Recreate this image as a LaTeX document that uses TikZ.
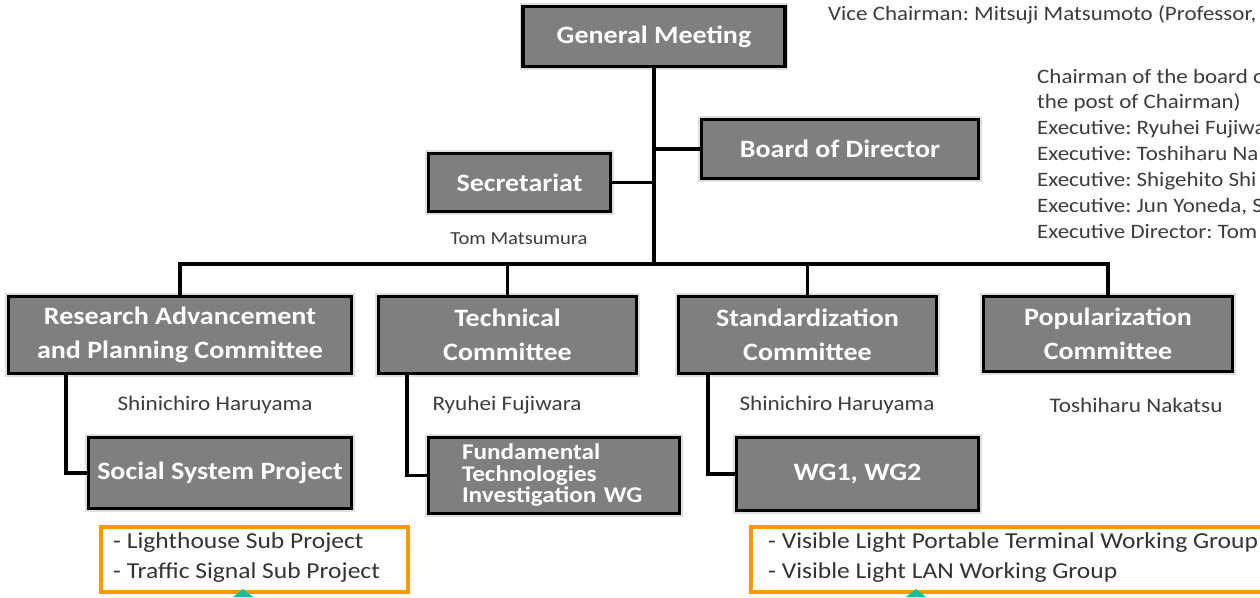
\documentclass[tikz,border=0pt]{standalone}
\usepackage{fontspec}
\setmainfont{Carlito}[FakeStretch=1.12]
\definecolor{boxgray}{RGB}{127,127,127}
\definecolor{lblgray}{RGB}{60,60,60}
\definecolor{orangeline}{RGB}{255,153,0}
\definecolor{tealtri}{RGB}{26,188,156}
\frenchspacing
\begin{document}
\begin{tikzpicture}[x=1pt,y=-1pt,
  box/.style={draw=black, line width=3.5pt, fill=boxgray, text=white,
    font=\bfseries\fontsize{25}{34}\selectfont, align=center, inner sep=0pt,
    preaction={draw=gray!25, line width=6.5pt}},
  smallbox/.style={box, font=\bfseries\fontsize{22.5}{21.5}\selectfont, align=left},
  conn/.style={line width=3.5pt, draw=black},
  lbl/.style={text=lblgray, font=\fontsize{20.7}{22}\selectfont, inner sep=0pt},
  note/.style={text=lblgray, font=\fontsize{20.5}{22}\selectfont, inner sep=0pt, anchor=base west},
  listtxt/.style={text=black!80, font=\fontsize{22.8}{24}\selectfont, inner sep=0pt, anchor=base west},
  obox/.style={draw=orangeline, line width=4pt},
  tri/.style={fill=tealtri, draw=none}
]
\useasboundingbox (0,0) rectangle (1260,597);
\clip (0,0) rectangle (1260,597);
\fill[white] (0,0) rectangle (1260,597);

% top level
\node[box, minimum width=262pt, minimum height=60pt] (gm) at (654,36.5) {General Meeting};
\node[box, minimum width=277pt, minimum height=59pt] (bod) at (840,149) {Board of Director};
\node[box, minimum width=182pt, minimum height=58pt] (sec) at (519.5,182.5) {Secretariat};
\node[lbl, font=\fontsize{18.4}{20}\selectfont] (tm) at (519,239) {Tom Matsumura};

% committees
\node[box, minimum width=343pt, minimum height=77pt] (rapc) at (180,335) {Research Advancement\\and Planning Committee};
\node[box, minimum width=258pt, minimum height=77pt] (tech) at (507.5,335) {Technical\\Committee};
\node[box, minimum width=258pt, minimum height=77pt] (std) at (807.5,335) {Standardization\\Committee};
\node[box, minimum width=249pt, minimum height=75pt] (pop) at (1108,334) {Popularization\\Committee};

\node[lbl] (n1) at (215,405) {Shinichiro Haruyama};
\node[lbl] (n2) at (507,405) {Ryuhei Fujiwara};
\node[lbl] (n3) at (837,405) {Shinichiro Haruyama};
\node[lbl] (n4) at (1136,405) {Toshiharu Nakatsu};

% sub groups
\node[box, minimum width=263pt, minimum height=71pt] (ssp) at (220,473) {Social System Project};
\node[smallbox, minimum width=251pt, minimum height=76pt, text width=184pt] (ftw) at (554,475.5) {Fundamental\\Technologies\\Investigation WG};
\node[box, minimum width=242pt, minimum height=73pt] (wg) at (857.5,474) {WG1, WG2};

% connectors
\coordinate (bus) at (654,264);
\draw[conn] (gm.south) -- (bus);
\draw[conn] (sec.east) -- (sec.east -| bus);
\draw[conn] (bod.west) -- (bod.west -| bus);
\draw[conn] (rapc.north) |- (bus) -| (pop.north);
\draw[conn] (tech.north) -- (tech.north |- bus);
\draw[conn] (std.north) -- (std.north |- bus);

\coordinate (c1) at (66,375);
\coordinate (c2) at (407,375);
\coordinate (c3) at (708,375);
\draw[conn] (c1) |- (ssp.west);
\draw[conn] (c2) |- (ftw.west);
\draw[conn] (c3) |- (wg.west);

% orange lists
\node[obox, minimum width=307pt, minimum height=65pt, inner sep=0pt] (ol) at (254.5,559.5) {};
\node[listtxt] (l1) at (113,548.5) {- Lighthouse Sub Project};
\node[listtxt] (l2) at (113,578.5) {- Traffic Signal Sub Project};
\node[obox, minimum width=520pt, minimum height=65pt, inner sep=0pt] (or) at (1011,559.5) {};
\node[listtxt] (r1) at (768,548.5) {- Visible Light Portable Terminal Working Group};
\node[listtxt] (r2) at (768,578.5) {- Visible Light LAN Working Group};

% teal markers
\fill[tri] (233,597) -- (243,589) -- (253,597) -- cycle;
\fill[tri] (906,597) -- (916,589) -- (926,597) -- cycle;

% top-right text
\node[note] (vc) at (828,20) {Vice Chairman: Mitsuji Matsumoto (Professor,};
\node[note] (t1) at (1037,83) {Chairman of the board o};
\node[note] (t2) at (1037,108) {the post of Chairman)};
\node[note] (t3) at (1037,134) {Executive: Ryuhei Fujiwa};
\node[note] (t4) at (1037,160) {Executive: Toshiharu Na};
\node[note] (t5) at (1037,186) {Executive: Shigehito Shi};
\node[note] (t6) at (1037,212) {Executive: Jun Yoneda, S};
\node[note] (t7) at (1037,238) {Executive Director: Tom};
\end{tikzpicture}
\end{document}
